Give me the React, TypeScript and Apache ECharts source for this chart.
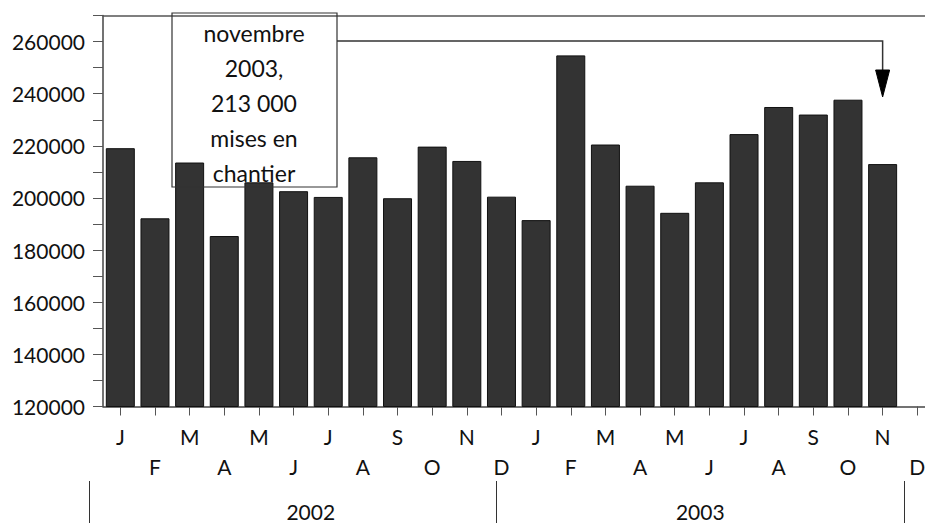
import React, { useEffect, useRef } from "react";
import * as echarts from "echarts";

const periods = [
  "2002-01", "2002-02", "2002-03", "2002-04", "2002-05", "2002-06",
  "2002-07", "2002-08", "2002-09", "2002-10", "2002-11", "2002-12",
  "2003-01", "2003-02", "2003-03", "2003-04", "2003-05", "2003-06",
  "2003-07", "2003-08", "2003-09", "2003-10", "2003-11", "2003-12",
];
const monthInitials = [
  "J", "F", "M", "A", "M", "J", "J", "A", "S", "O", "N", "D",
  "J", "F", "M", "A", "M", "J", "J", "A", "S", "O", "N", "D",
];
const housingStarts: (number | null)[] = [
  219100, 192200, 213600, 185400, 206000, 202600, 200400, 215600, 199900, 219700, 214200, 200500,
  191500, 254700, 220500, 204700, 194300, 206000, 224500, 234900, 232000, 237700, 213000, null,
];
const years = ["2002", "2003"];
const yMin = 120000;
const yMax = 270000;
const yStep = 10000;
const yLabelStep = 20000;
const annotationLines = ["novembre", "2003,", "213 000", "mises en", "chantier"];
const annotatedIndex = 22;

const FONT = "Lato, 'DejaVu Sans', sans-serif";

export default function App() {
  const ref = useRef<HTMLDivElement | null>(null);

  useEffect(() => {
    if (!ref.current) return;
    const chart = echarts.init(ref.current, undefined, { renderer: "svg" });
    chart.setOption({
      animation: false,
      backgroundColor: "#ffffff",
      textStyle: { fontFamily: FONT },
      grid: [
        { left: 103, top: 15.5, width: 831.6, height: 391, containLabel: false, outerBoundsMode: "none" },
        { left: 89, top: 0, width: 815, height: 481, containLabel: false, outerBoundsMode: "none" },
      ],
      xAxis: [
        {
          type: "category",
          gridIndex: 0,
          data: periods,
          position: "bottom",
          axisLine: { show: true, lineStyle: { color: "#444", width: 1.5 } },
          axisTick: { show: true, alignWithLabel: true, length: 9, lineStyle: { color: "#555", width: 1 } },
          axisLabel: {
            interval: 0,
            margin: 15,
            fontSize: 21,
            color: "#111",
            fontFamily: FONT,
            lineHeight: 30,
            formatter: (_v: string, i: number) => (i % 2 === 0 ? monthInitials[i] : "\n" + monthInitials[i]),
          },
        },
        {
          type: "category",
          gridIndex: 0,
          data: periods,
          position: "top",
          axisLine: { show: true, lineStyle: { color: "#555", width: 1.5 } },
          axisTick: { show: false },
          axisLabel: { show: false },
        },
        {
          type: "category",
          gridIndex: 1,
          data: years,
          position: "bottom",
          axisLine: { show: false },
          axisTick: { show: true, length: 42, lineStyle: { color: "#333", width: 1 } },
          axisLabel: {
            margin: 20,
            fontSize: 21,
            color: "#111",
            fontFamily: FONT,
            formatter: (v: string, i: number) => (i === 0 ? `{s|${v}}` : v),
            rich: { s: { fontSize: 21, fontFamily: FONT, color: "#111", padding: [0, 0, 0, 36] } },
          },
        },
      ],
      yAxis: [
        {
          type: "value",
          gridIndex: 0,
          min: yMin,
          max: yMax,
          interval: yStep,
          splitLine: { show: false },
          axisLine: { show: true, lineStyle: { color: "#444", width: 1.5 } },
          axisTick: { show: true, length: 10, lineStyle: { color: "#555", width: 1 } },
          axisLabel: {
            margin: 18,
            fontSize: 21,
            color: "#111",
            fontFamily: FONT,
            formatter: (v: number) => (v % yLabelStep === 0 && v < yMax ? String(v) : ""),
          },
        },
        { type: "value", gridIndex: 1, show: false },
      ],
      series: [
        {
          type: "bar",
          xAxisIndex: 0,
          yAxisIndex: 0,
          data: housingStarts,
          barWidth: 29,
          itemStyle: { color: "#333333", borderColor: "#111111", borderWidth: 1 },
        },
      ],
    });

    const tip = chart.convertToPixel({ gridIndex: 0 }, [annotatedIndex, 260000]) as number[];
    const ax = tip[0];
    const lineY = 41;
    chart.setOption({
      graphic: [
        {
          type: "rect",
          z: 100,
          shape: { x: 172, y: 13, width: 165, height: 174 },
          style: { fill: "transparent", stroke: "#333", lineWidth: 1.2 },
        },
        {
          type: "text",
          z: 101,
          x: 254,
          y: 15.5,
          style: {
            text: annotationLines.join("\n"),
            align: "center",
            verticalAlign: "top",
            fontSize: 23,
            fontFamily: FONT,
            lineHeight: 35,
            fill: "#111",
          },
        },
        {
          type: "polyline",
          z: 100,
          shape: { points: [[337, lineY], [ax, lineY], [ax, 72]] },
          style: { stroke: "#333", lineWidth: 1.5, fill: null },
        },
        {
          type: "polygon",
          z: 100,
          shape: { points: [[ax - 7, 70], [ax + 7, 70], [ax, 97]] },
          style: { fill: "#000", stroke: "#000", lineWidth: 1 },
        },
      ],
    });

    return () => chart.dispose();
  }, []);

  return (
    <div
      ref={ref}
      style={{ position: "absolute", left: 0, top: 0, width: 925, height: 523, overflow: "hidden" }}
    />
  );
}
